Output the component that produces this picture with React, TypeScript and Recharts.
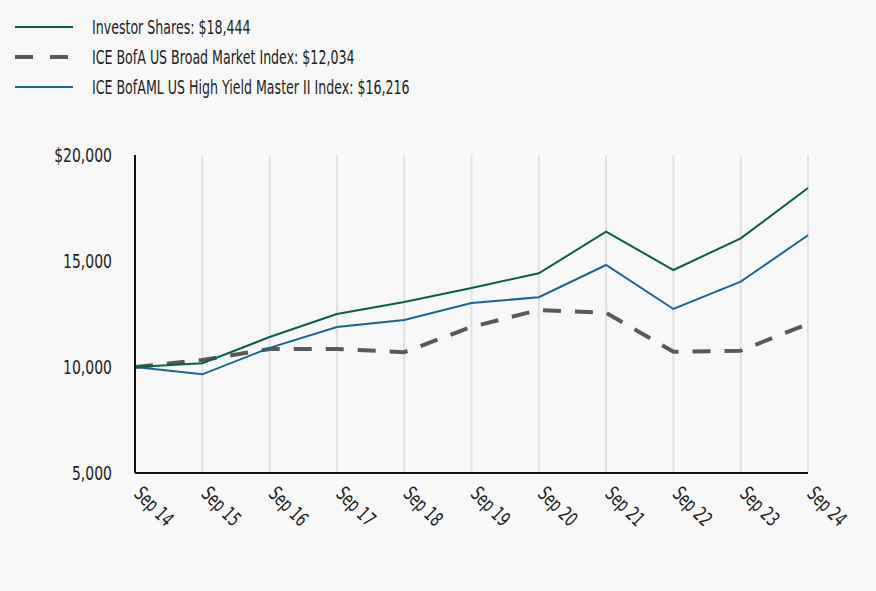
import { LineChart, Line, XAxis, YAxis, CartesianGrid } from 'recharts';

const years = ['Sep 14', 'Sep 15', 'Sep 16', 'Sep 17', 'Sep 18', 'Sep 19', 'Sep 20', 'Sep 21', 'Sep 22', 'Sep 23', 'Sep 24'];
const investorShares = [10000, 10175, 11415, 12500, 13066, 13726, 14420, 16380, 14575, 16070, 18444];
const broadMarket = [10000, 10330, 10850, 10850, 10700, 11890, 12690, 12550, 10720, 10770, 12034];
const highYield = [10000, 9655, 10900, 11890, 12217, 13020, 13290, 14811, 12736, 14024, 16216];
const yTicks = [5000, 10000, 15000, 20000];

const data = years.map((year, i) => ({
  year,
  investor: investorShares[i],
  broad: broadMarket[i],
  hy: highYield[i],
}));

// no condensed face installed, so squeeze a normal one
const FONT = '"DejaVu Sans", sans-serif';
const SQUEEZE = 0.7;
const LEGEND_SQUEEZE = 0.63;
const GREEN = '#0a5e48';
const BLUE = '#1a6592';
const GRAY = '#595959';

const legendItems = [
  { label: 'Investor Shares: $18,444', color: GREEN, dash: false, width: 2 },
  { label: 'ICE BofA US Broad Market Index: $12,034', color: GRAY, dash: true, width: 4 },
  { label: 'ICE BofAML US High Yield Master II Index: $16,216', color: BLUE, dash: false, width: 2 },
];

function XTick({ x, y, payload }: any) {
  return (
    <g transform={`translate(${x - 2}, ${y + 14}) rotate(45) scale(0.66, 1)`}>
      <text x={0} y={0} textAnchor="start" fontSize={20} fill="#222" fontFamily={FONT}>
        {payload.value}
      </text>
    </g>
  );
}

function YTick({ x, y, payload }: any) {
  const v = payload.value;
  const label = v === 20000 ? '$20,000' : v.toLocaleString('en-US');
  return (
    <g transform={`translate(${x}, ${y}) scale(${SQUEEZE}, 1)`}>
      <text x={0} y={0} dy="0.36em" textAnchor="end" fontSize={20} fill="#222" fontFamily={FONT}>
        {label}
      </text>
    </g>
  );
}

export default function App() {
  return (
    <div style={{ position: 'absolute', left: 0, top: 0, width: 876, height: 591, background: '#f8f8f8', fontFamily: FONT }}>
      <div style={{ position: 'absolute', left: 15, top: 12 }}>
        {legendItems.map((item) => (
          <div key={item.label} style={{ display: 'flex', alignItems: 'center', height: 30, whiteSpace: 'nowrap' }}>
            <svg width={60} height={10} style={{ marginRight: 17 }}>
              <line
                x1={0}
                y1={5}
                x2={58}
                y2={5}
                stroke={item.color}
                strokeWidth={item.width}
                strokeDasharray={item.dash ? '18 17' : undefined}
              />
            </svg>
            <span
              style={{
                fontSize: 20,
                color: '#222',
                display: 'inline-block',
                transform: `scaleX(${LEGEND_SQUEEZE})`,
                transformOrigin: 'left center',
              }}
            >
              {item.label}
            </span>
          </div>
        ))}
      </div>
      <LineChart width={876} height={591} data={data} margin={{ top: 155, right: 68, bottom: 0, left: 0 }}>
        <CartesianGrid horizontal={false} stroke="#e0e0e0" strokeWidth={2} />
        <XAxis
          dataKey="year"
          height={118}
          axisLine={{ stroke: '#111', strokeWidth: 2 }}
          tickLine={false}
          tick={<XTick />}
          interval={0}
        />
        <YAxis
          width={135}
          domain={[5000, 20000]}
          ticks={yTicks}
          axisLine={{ stroke: '#111', strokeWidth: 2 }}
          tickLine={false}
          tickSize={0}
          tickMargin={23}
          tick={<YTick />}
        />
        <Line dataKey="broad" stroke={GRAY} strokeWidth={4} strokeDasharray="18 14" dot={false} isAnimationActive={false} />
        <Line dataKey="hy" stroke={BLUE} strokeWidth={2} dot={false} isAnimationActive={false} />
        <Line dataKey="investor" stroke={GREEN} strokeWidth={2} dot={false} isAnimationActive={false} />
      </LineChart>
    </div>
  );
}
